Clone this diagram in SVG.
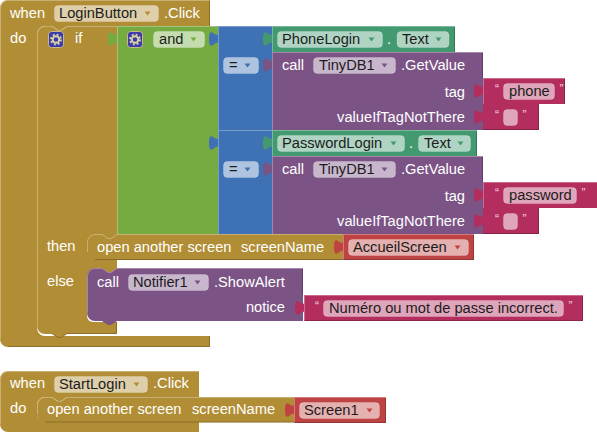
<svg xmlns="http://www.w3.org/2000/svg" width="597" height="432" viewBox="0 0 597 432">
<style>
text{font-family:"Liberation Sans",Arial,sans-serif;font-size:14.67px;fill:#fff}
text.f{fill:#1c1c1c}
text.q{font-size:12px;fill:#f0d0dc}
.gold{fill:#b18e35}.green{fill:#76ab41}.blue{fill:#3f71b5}.teal{fill:#439970}.purple{fill:#7c5385}.pink{fill:#b32d5e}.red{fill:#bf4343}
.hl{fill:none;stroke:#fff;stroke-opacity:.3;stroke-width:1}
.sh{fill:none;stroke:#000;stroke-opacity:.22;stroke-width:1}
.fd{fill:#fff;fill-opacity:.58;stroke:#fff;stroke-opacity:.2}
</style>
<defs>
<path id="tab" d="M0,0 c0,10 -9,-9 -9,7 s9,-3 9,6 z"/>
<path id="arr" d="M.5,.5 h6 l-3,4 z"/>
<g id="gear">
<rect x="0.500" y="0.500" width="15" height="16" rx="3" fill="#3c3ca8" stroke="#c8b88c"/>
<circle cx="8" cy="8.500" r="3.300" fill="none" stroke="#d9d0a8" stroke-width="2"/>
<circle cx="8" cy="8.500" r="5" fill="none" stroke="#d9d0a8" stroke-width="1.800" stroke-dasharray="2 1.930"/>
</g>
</defs>

<g id="event-loginbutton">
<path class="gold" d="M0,8 a8,8 0 0 1 8,-8 H210 V26 H67 l-6,4 h-3 l-6,-4 H45 a8,8 0 0 0 -8,8 V328 a8,8 0 0 0 8,8 H210 V347 H8 a8,8 0 0 1 -8,-8 Z"/>
<path class="hl" d="M.5,339 V8 a7.500,7.500 0 0 1 7.500,-7.500 H209.500"/>
<path class="hl" d="M45,335.500 H210"/>
<path class="sh" d="M209.500,1 V26 M209.500,336 V346.500 H8"/>
<text x="10" y="18">when</text>
<rect class="fd" x="54.500" y="5.500" width="104" height="16" rx="4"/>
<text class="f" x="59" y="18">LoginButton</text>
<use href="#arr" x="144" y="11" class="gold"/>
<text x="164" y="18">.Click</text>
<text x="10" y="43">do</text>
</g>

<g id="if-block">
<path class="gold" d="M37,34 a8,8 0 0 1 8,-8 h7 l6,4 h3 l6,-4 H117 V334 H67 l-6,4 h-3 l-6,-4 H45 a8,8 0 0 1 -8,-8 Z"/>
<path fill="#fff" d="M87,300 V316 a6,6 0 0 0 6,6 H117 V300 Z"/>
<path class="hl" d="M37.500,326 V34 a7.500,7.500 0 0 1 7.500,-7.500 h7 l6,4 h3 l6,-4 H117"/>
<path class="sh" d="M116.500,322 V333.500 H67 l-6,4 h-3 l-6,-4"/>
<use href="#gear" x="48" y="31"/>
<text x="75" y="43">if</text>
<text x="47" y="251">then</text>
<text x="47" y="286">else</text>
</g>

<g id="and-block">
<rect class="green" x="117" y="26" width="101" height="208"/>
<path class="hl" d="M117.500,234 V26.500 H218"/>
<use href="#gear" x="127" y="31"/>
<rect class="fd" x="153.500" y="31.500" width="51" height="16" rx="4"/>
<text class="f" x="159" y="44">and</text>
<use href="#arr" x="190" y="37" class="green"/>
</g>

<g id="equals-1">
<rect class="blue" x="218" y="26" width="54" height="104"/>
<path class="hl" d="M218.500,130 V26.500 H272"/>
<rect class="fd" x="223.500" y="57.500" width="35" height="16" rx="4"/>
<text class="f" x="229" y="70">=</text>
<use href="#arr" x="244" y="63" class="blue"/>
</g>

<g id="equals-2">
<rect class="blue" x="218" y="130" width="54" height="104"/>
<path class="hl" d="M218.500,234 V130.500 H272"/>
<rect class="fd" x="223.500" y="161.500" width="35" height="16" rx="4"/>
<text class="f" x="229" y="174">=</text>
<use href="#arr" x="244" y="167" class="blue"/>
</g>

<g id="phonelogin-text">
<rect class="teal" x="272" y="26" width="183" height="26"/>
<path class="hl" d="M272.500,52 V26.500 H455"/>
<path class="sh" d="M454.500,27 V52"/>
<rect class="fd" x="277.500" y="31.500" width="105" height="16" rx="4"/>
<text class="f" x="282" y="44">PhoneLogin</text>
<use href="#arr" x="368" y="37" class="teal"/>
<text x="387" y="44">.</text>
<rect class="fd" x="397" y="31.500" width="52" height="16" rx="4"/>
<text class="f" x="402" y="44">Text</text>
<use href="#arr" x="435" y="37" class="teal"/>
</g>

<g id="getvalue-1">
<rect class="purple" x="272" y="52" width="211" height="78"/>
<path class="hl" d="M272.500,130 V52.500 H483"/>
<path class="sh" d="M482.500,53 V78"/>
<text x="282" y="70">call</text>
<rect class="fd" x="313.500" y="57.500" width="82" height="16" rx="4"/>
<text class="f" x="319" y="70">TinyDB1</text>
<use href="#arr" x="381" y="63" class="purple"/>
<text x="401" y="70">.GetValue</text>
<text x="465" y="97" text-anchor="end">tag</text>
<text x="465" y="122" text-anchor="end">valueIfTagNotThere</text>
</g>

<g id="text-phone">
<rect class="pink" x="483" y="78" width="82" height="26"/>
<path class="hl" d="M483.500,104 V78.500 H565"/>
<path class="sh" d="M564.500,79 V104"/>
<text class="q" x="495" y="93">“</text>
<rect class="fd" x="503.500" y="83.500" width="51" height="16" rx="4"/>
<text class="f" x="509" y="96">phone</text>
<text class="q" x="559.500" y="93">”</text>
</g>

<g id="text-empty-1">
<rect class="pink" x="483" y="104" width="56" height="26"/>
<path class="sh" d="M538.500,105 V129.500 H483"/>
<text class="q" x="495" y="119">“</text>
<rect class="fd" x="503.500" y="109.500" width="14" height="16" rx="4"/>
<text class="q" x="522.500" y="119">”</text>
</g>

<g id="passwordlogin-text">
<rect class="teal" x="272" y="130" width="205" height="26"/>
<path class="hl" d="M272.500,156 V130.500 H477"/>
<path class="sh" d="M476.500,131 V156"/>
<rect class="fd" x="277.500" y="135.500" width="127" height="16" rx="4"/>
<text class="f" x="282" y="148">PasswordLogin</text>
<use href="#arr" x="390" y="141" class="teal"/>
<text x="409" y="148">.</text>
<rect class="fd" x="418.500" y="135.500" width="52" height="16" rx="4"/>
<text class="f" x="424" y="148">Text</text>
<use href="#arr" x="457" y="141" class="teal"/>
</g>

<g id="getvalue-2">
<rect class="purple" x="272" y="156" width="211" height="78"/>
<path class="hl" d="M272.500,234 V156.500 H483"/>
<path class="sh" d="M482.500,157 V182"/>
<text x="282" y="174">call</text>
<rect class="fd" x="313.500" y="161.500" width="82" height="16" rx="4"/>
<text class="f" x="319" y="174">TinyDB1</text>
<use href="#arr" x="381" y="167" class="purple"/>
<text x="401" y="174">.GetValue</text>
<text x="465" y="201" text-anchor="end">tag</text>
<text x="465" y="226" text-anchor="end">valueIfTagNotThere</text>
</g>

<g id="text-password">
<rect class="pink" x="483" y="182" width="114" height="26"/>
<path class="hl" d="M483.500,208 V182.500 H597"/>
<text class="q" x="495" y="197">“</text>
<rect class="fd" x="503.500" y="187.500" width="73" height="16" rx="4"/>
<text class="f" x="509" y="200">password</text>
<text class="q" x="581.500" y="197">”</text>
</g>

<g id="text-empty-2">
<rect class="pink" x="483" y="208" width="56" height="26"/>
<path class="sh" d="M538.500,209 V233.500 H483"/>
<text class="q" x="495" y="223">“</text>
<rect class="fd" x="503.500" y="213.500" width="14" height="16" rx="4"/>
<text class="q" x="522.500" y="223">”</text>
</g>

<g id="open-screen-1">
<path class="gold" d="M87,242 a8,8 0 0 1 8,-8 h7 l6,4 h3 l6,-4 H343 V260 H95 a8,8 0 0 1 -8,-8 Z"/>
<path class="hl" d="M87.500,252 V242 a7.500,7.500 0 0 1 7.500,-7.500 h7 l6,4 h3 l6,-4 H343"/>
<path class="sh" d="M95,259.500 H343"/>
<text x="97" y="252">open another screen</text>
<text x="241" y="252">screenName</text>
</g>

<g id="accueilscreen">
<rect class="red" x="343" y="234" width="131" height="26"/>
<path class="hl" d="M343.500,260 V234.500 H474"/>
<path class="sh" d="M473.500,235 V259.500 H343"/>
<rect class="fd" x="348.500" y="239.500" width="120" height="16" rx="4"/>
<text class="f" x="353" y="252">AccueilScreen</text>
<use href="#arr" x="454" y="245" class="red"/>
</g>

<g id="showalert">
<path class="purple" d="M87,276 a8,8 0 0 1 8,-8 h7 l6,4 h3 l6,-4 H303 V321 H117 l-6,4 h-3 l-6,-4 H95 a8,8 0 0 1 -8,-8 Z"/>
<path class="hl" d="M87.500,313 V276 a7.500,7.500 0 0 1 7.500,-7.500 h7 l6,4 h3 l6,-4 H303"/>
<path class="sh" d="M302.500,269 V295"/>
<text x="97" y="287">call</text>
<rect class="fd" x="128.500" y="274.500" width="80" height="16" rx="4"/>
<text class="f" x="133" y="287">Notifier1</text>
<use href="#arr" x="194" y="280" class="purple"/>
<text x="214" y="287">.ShowAlert</text>
<text x="285" y="312" text-anchor="end">notice</text>
</g>

<g id="text-incorrect">
<rect class="pink" x="304" y="295" width="279" height="26"/>
<path class="hl" d="M304.500,321 V295.500 H583"/>
<path class="sh" d="M582.500,296 V320.500 H304"/>
<text class="q" x="315" y="310">“</text>
<rect class="fd" x="323.500" y="300.500" width="240" height="16" rx="4"/>
<text class="f" x="329" y="313">Numéro ou mot de passe incorrect.</text>
<text class="q" x="568.500" y="310">”</text>
</g>

<g id="event-startlogin">
<path class="gold" d="M0,379 a8,8 0 0 1 8,-8 H199 V397 H67 l-6,4 h-3 l-6,-4 H45 a8,8 0 0 0 -8,8 V414 a8,8 0 0 0 8,8 H199 V432 H8 a8,8 0 0 1 -8,-8 Z"/>
<path class="hl" d="M.5,424 V379 a7.500,7.500 0 0 1 7.500,-7.500 H198.500"/>
<text x="10" y="388">when</text>
<rect class="fd" x="54.500" y="376.500" width="93" height="16" rx="4"/>
<text class="f" x="59" y="389">StartLogin</text>
<use href="#arr" x="133" y="382" class="gold"/>
<text x="153" y="388">.Click</text>
<text x="10" y="413">do</text>
</g>

<g id="open-screen-2">
<path class="gold" d="M37,405 a8,8 0 0 1 8,-8 h7 l6,4 h3 l6,-4 H294 V422.500 H45 a8,8 0 0 1 -8,-8 Z"/>
<path class="hl" d="M37.500,414 V405 a7.500,7.500 0 0 1 7.500,-7.500 h7 l6,4 h3 l6,-4 H294"/>
<path class="sh" d="M45,422 H294"/>
<text x="47" y="414">open another screen</text>
<text x="192" y="414">screenName</text>
</g>

<g id="screen1">
<rect class="red" x="294" y="397" width="92" height="26"/>
<path class="hl" d="M294.500,423 V397.500 H386"/>
<path class="sh" d="M385.500,398 V422.500 H294"/>
<rect class="fd" x="299.500" y="402.500" width="80" height="16" rx="4"/>
<text class="f" x="304" y="415">Screen1</text>
<use href="#arr" x="366" y="408" class="red"/>
</g>

<g id="connectors">
<use href="#tab" x="117" y="32" class="green"/>
<use href="#tab" x="218" y="32" class="blue"/>
<use href="#tab" x="218" y="136" class="blue"/>
<use href="#tab" x="272" y="32" class="teal"/>
<use href="#tab" x="272" y="58" class="purple"/>
<use href="#tab" x="272" y="136" class="teal"/>
<use href="#tab" x="272" y="162" class="purple"/>
<use href="#tab" x="483" y="84" class="pink"/>
<use href="#tab" x="483" y="110" class="pink"/>
<use href="#tab" x="483" y="188" class="pink"/>
<use href="#tab" x="483" y="214" class="pink"/>
<use href="#tab" x="343" y="240" class="red"/>
<use href="#tab" x="304" y="301" class="pink"/>
<use href="#tab" x="294" y="403" class="red"/>
</g>
</svg>
